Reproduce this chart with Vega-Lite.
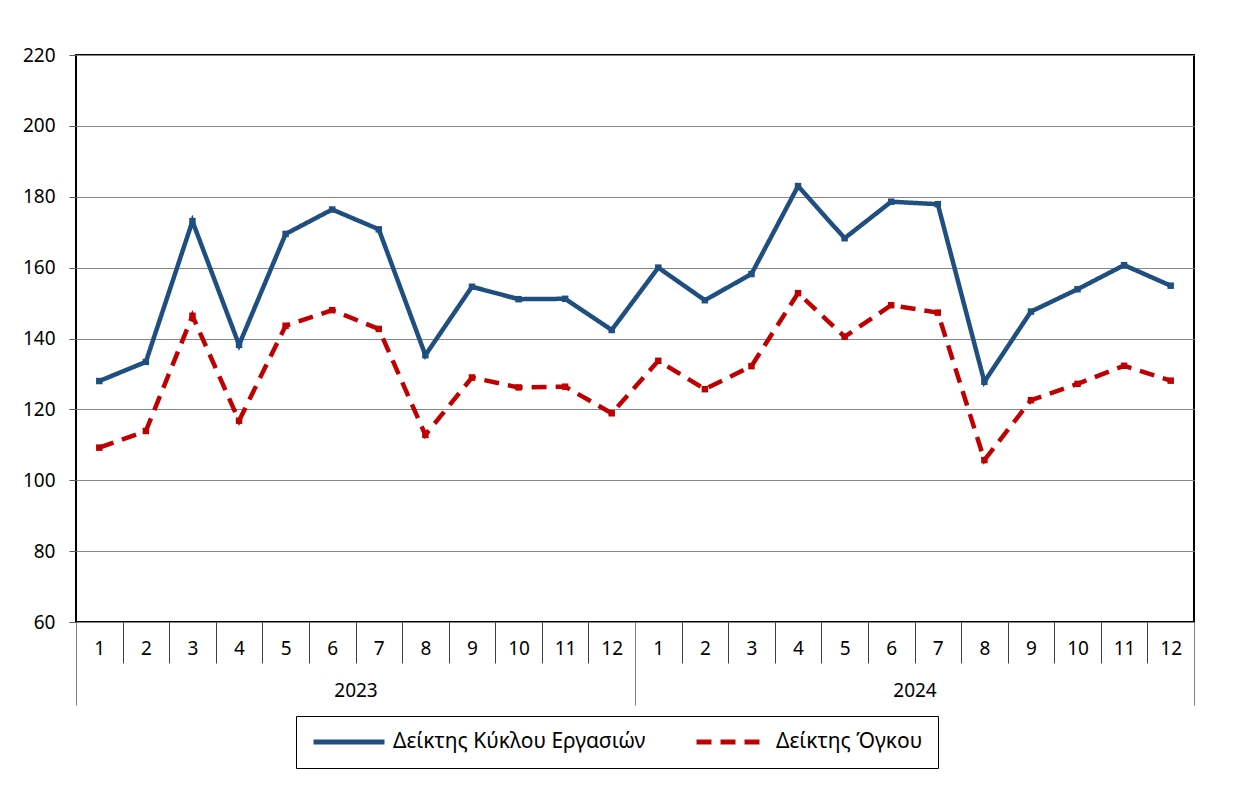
{
  "$schema": "https://vega.github.io/schema/vega-lite/v6.json",
  "width": 1118,
  "height": 567,
  "autosize": {"type": "none"},
  "padding": {"left": 76, "top": 55, "right": 39, "bottom": 172},
  "background": "white",
  "config": {
    "font": "Noto Sans",
    "view": {"stroke": "black", "strokeWidth": 2},
    "axis": {"labelFont": "Noto Sans", "labelColor": "black"}
  },
  "datasets": {
    "series": [
      {"period": "2023-01", "series": "Δείκτης Κύκλου Εργασιών", "value": 128.0},
      {"period": "2023-02", "series": "Δείκτης Κύκλου Εργασιών", "value": 133.4},
      {"period": "2023-03", "series": "Δείκτης Κύκλου Εργασιών", "value": 173.1},
      {"period": "2023-04", "series": "Δείκτης Κύκλου Εργασιών", "value": 138.2},
      {"period": "2023-05", "series": "Δείκτης Κύκλου Εργασιών", "value": 169.5},
      {"period": "2023-06", "series": "Δείκτης Κύκλου Εργασιών", "value": 176.4},
      {"period": "2023-07", "series": "Δείκτης Κύκλου Εργασιών", "value": 170.8},
      {"period": "2023-08", "series": "Δείκτης Κύκλου Εργασιών", "value": 135.3},
      {"period": "2023-09", "series": "Δείκτης Κύκλου Εργασιών", "value": 154.6},
      {"period": "2023-10", "series": "Δείκτης Κύκλου Εργασιών", "value": 151.1},
      {"period": "2023-11", "series": "Δείκτης Κύκλου Εργασιών", "value": 151.2},
      {"period": "2023-12", "series": "Δείκτης Κύκλου Εργασιών", "value": 142.4},
      {"period": "2024-01", "series": "Δείκτης Κύκλου Εργασιών", "value": 160.0},
      {"period": "2024-02", "series": "Δείκτης Κύκλου Εργασιών", "value": 150.8},
      {"period": "2024-03", "series": "Δείκτης Κύκλου Εργασιών", "value": 158.2},
      {"period": "2024-04", "series": "Δείκτης Κύκλου Εργασιών", "value": 183.0},
      {"period": "2024-05", "series": "Δείκτης Κύκλου Εργασιών", "value": 168.3},
      {"period": "2024-06", "series": "Δείκτης Κύκλου Εργασιών", "value": 178.6},
      {"period": "2024-07", "series": "Δείκτης Κύκλου Εργασιών", "value": 177.9},
      {"period": "2024-08", "series": "Δείκτης Κύκλου Εργασιών", "value": 127.8},
      {"period": "2024-09", "series": "Δείκτης Κύκλου Εργασιών", "value": 147.6},
      {"period": "2024-10", "series": "Δείκτης Κύκλου Εργασιών", "value": 153.9},
      {"period": "2024-11", "series": "Δείκτης Κύκλου Εργασιών", "value": 160.7},
      {"period": "2024-12", "series": "Δείκτης Κύκλου Εργασιών", "value": 154.9},
      {"period": "2023-01", "series": "Δείκτης Όγκου", "value": 109.2},
      {"period": "2023-02", "series": "Δείκτης Όγκου", "value": 113.9},
      {"period": "2023-03", "series": "Δείκτης Όγκου", "value": 146.4},
      {"period": "2023-04", "series": "Δείκτης Όγκου", "value": 116.8},
      {"period": "2023-05", "series": "Δείκτης Όγκου", "value": 143.6},
      {"period": "2023-06", "series": "Δείκτης Όγκου", "value": 148.0},
      {"period": "2023-07", "series": "Δείκτης Όγκου", "value": 142.7},
      {"period": "2023-08", "series": "Δείκτης Όγκου", "value": 112.8},
      {"period": "2023-09", "series": "Δείκτης Όγκου", "value": 129.0},
      {"period": "2023-10", "series": "Δείκτης Όγκου", "value": 126.2},
      {"period": "2023-11", "series": "Δείκτης Όγκου", "value": 126.4},
      {"period": "2023-12", "series": "Δείκτης Όγκου", "value": 118.9},
      {"period": "2024-01", "series": "Δείκτης Όγκου", "value": 133.7},
      {"period": "2024-02", "series": "Δείκτης Όγκου", "value": 125.7},
      {"period": "2024-03", "series": "Δείκτης Όγκου", "value": 132.2},
      {"period": "2024-04", "series": "Δείκτης Όγκου", "value": 152.8},
      {"period": "2024-05", "series": "Δείκτης Όγκου", "value": 140.5},
      {"period": "2024-06", "series": "Δείκτης Όγκου", "value": 149.4},
      {"period": "2024-07", "series": "Δείκτης Όγκου", "value": 147.3},
      {"period": "2024-08", "series": "Δείκτης Όγκου", "value": 105.7},
      {"period": "2024-09", "series": "Δείκτης Όγκου", "value": 122.6},
      {"period": "2024-10", "series": "Δείκτης Όγκου", "value": 127.2},
      {"period": "2024-11", "series": "Δείκτης Όγκου", "value": 132.3},
      {"period": "2024-12", "series": "Δείκτης Όγκου", "value": 128.1}
    ],
    "years": [
      {"year": "2023"},
      {"year": "2024"}
    ]
  },
  "layer": [
    {
      "data": {"name": "series"},
      "mark": {
        "type": "line",
        "strokeWidth": 4.5,
        "point": {"shape": "square", "size": 42, "filled": true}
      },
      "encoding": {
        "x": {
          "field": "period",
          "type": "ordinal",
          "bandPosition": 0.5,
          "scale": {"type": "band", "paddingInner": 0, "paddingOuter": 0},
          "axis": {
            "orient": "bottom",
            "title": null,
            "tickBand": "extent",
            "tickSize": 41,
            "tickColor": "#404040",
            "tickWidth": 1,
            "domain": false,
            "grid": false,
            "labelAngle": 0,
            "labelFontSize": 19,
            "labelPadding": -24,
            "labelExpr": "toNumber(split(datum.value, '-')[1])"
          }
        },
        "y": {
          "field": "value",
          "type": "quantitative",
          "scale": {"domain": [60, 220], "nice": false, "zero": false},
          "axis": {
            "title": null,
            "values": [60, 80, 100, 120, 140, 160, 180, 200, 220],
            "grid": true,
            "gridColor": "#868686",
            "gridWidth": 1,
            "domain": false,
            "tickSize": 7,
            "tickColor": "#595959",
            "labelFontSize": 19,
            "labelPadding": 14
          }
        },
        "color": {
          "field": "series",
          "type": "nominal",
          "scale": {
            "domain": ["Δείκτης Κύκλου Εργασιών", "Δείκτης Όγκου"],
            "range": ["#1F4E80", "#C00000"]
          },
          "legend": {
            "orient": "none",
            "legendX": 220,
            "legendY": 661,
            "direction": "horizontal",
            "title": null,
            "strokeColor": "black",
            "padding": 15,
            "clipHeight": 22,
            "symbolType": "stroke",
            "symbolSize": 5041,
            "symbolStrokeWidth": 5,
            "labelFontSize": 21,
            "labelOffset": 6,
            "columnPadding": 48,
            "labelLimit": 500,
            "labelColor": "black"
          }
        },
        "strokeDash": {
          "field": "series",
          "type": "nominal",
          "scale": {
            "domain": ["Δείκτης Κύκλου Εργασιών", "Δείκτης Όγκου"],
            "range": [[1, 0], [15, 9]]
          },
          "legend": {
            "orient": "none",
            "legendX": 220,
            "legendY": 661,
            "direction": "horizontal",
            "title": null,
            "strokeColor": "black",
            "padding": 15,
            "clipHeight": 22,
            "symbolType": "stroke",
            "symbolSize": 5041,
            "symbolStrokeWidth": 5,
            "labelFontSize": 21,
            "labelOffset": 6,
            "columnPadding": 48,
            "labelLimit": 500,
            "labelColor": "black"
          }
        }
      }
    },
    {
      "data": {"name": "years"},
      "mark": {"type": "rule", "opacity": 0},
      "encoding": {
        "x": {
          "field": "year",
          "type": "ordinal",
          "scale": {"type": "band", "paddingInner": 0, "paddingOuter": 0},
          "axis": {
            "orient": "bottom",
            "title": null,
            "tickBand": "extent",
            "tickSize": 83,
            "tickColor": "#808080",
            "tickWidth": 1,
            "domain": false,
            "grid": false,
            "labelAngle": 0,
            "labelFontSize": 19,
            "labelPadding": -24,
            "labelColor": "black"
          }
        }
      }
    }
  ],
  "resolve": {"scale": {"x": "independent"}, "axis": {"x": "independent"}}
}
